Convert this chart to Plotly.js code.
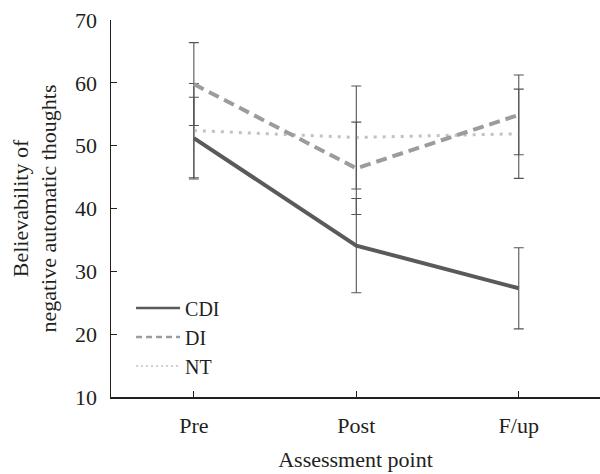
<!DOCTYPE html>
<html>
<head>
<meta charset="utf-8">
<script src="https://cdn.plot.ly/plotly-3.0.1.min.js"></script>
<style>html,body{margin:0;padding:0;background:#fff;}#chart{width:600px;height:474px;}</style>
</head>
<body>
<div id="chart"></div>
<script>
const categories = ["Pre", "Post", "F/up"];
const seriesNames = ["CDI", "DI", "NT"];
const cdiMean = [51.2, 34.1, 27.3];
const cdiErr = [6.5, 7.5, 6.45];
const diMean = [59.8, 46.4, 54.9];
const diErr = [6.6, 7.35, 6.35];
const ntMean = [52.4, 51.3, 51.9];
const ntErr = [7.5, 8.2, 7.1];
const yTicks = [10, 20, 30, 40, 50, 60, 70];

const font = "Liberation Serif, Times New Roman, serif";
const fsize = 22;
const tcol = "#231f20";
const xIdx = categories.map((c, i) => i);

const styles = {
  CDI: {color: "#5a5a5a", width: 4, dash: "solid", lw: 2.5, ldash: "solid"},
  DI: {color: "#9c9c9c", width: 4, dash: "11px,6px", lw: 2.5, ldash: "6px,4px"},
  NT: {color: "#c2c2c2", width: 3, dash: "3px,6px", lw: 1.5, ldash: "2px,3px"}
};

function trace(name, y, err) {
  const s = styles[name];
  return {
    type: "scatter", mode: "lines", name: name, showlegend: false,
    x: xIdx, y: y,
    line: {color: s.color, width: s.width, dash: s.dash},
    error_y: {type: "data", array: err, visible: true, color: "#555555", thickness: 1.1, width: 5}
  };
}
function legendTrace(name) {
  const s = styles[name];
  return {
    type: "scatter", mode: "lines", name: name, showlegend: true,
    x: [null], y: [null],
    line: {color: s.color, width: s.lw, dash: s.ldash}
  };
}

const data = [
  trace("NT", ntMean, ntErr),
  trace("DI", diMean, diErr),
  trace("CDI", cdiMean, cdiErr),
  legendTrace(seriesNames[0]),
  legendTrace(seriesNames[1]),
  legendTrace(seriesNames[2])
];

const layout = {
  width: 600, height: 474,
  margin: {l: 111, r: 0, t: 20, b: 77},
  paper_bgcolor: "#fff", plot_bgcolor: "#fff",
  font: {family: font, size: fsize, color: tcol},
  showlegend: true,
  legend: {
    x: 0.041, y: 0.288, xanchor: "left", yanchor: "top",
    traceorder: "normal",
    font: {family: font, size: 20, color: tcol},
    bgcolor: "rgba(0,0,0,0)", itemwidth: 44, tracegroupgap: 0
  },
  xaxis: {
    range: [-0.51, 2.5],
    tickvals: xIdx, ticktext: categories,
    ticks: "inside", ticklen: 6, tickcolor: tcol, tickwidth: 1,
    showline: true, linecolor: tcol, linewidth: 1.5,
    showgrid: false, zeroline: false,
    ticklabelstandoff: 8,
    tickfont: {family: font, size: fsize, color: tcol},
    title: {text: "Assessment point", font: {family: font, size: fsize, color: tcol}, standoff: 14}
  },
  yaxis: {
    range: [10, 70],
    tickvals: yTicks,
    ticks: "inside", ticklen: 6, tickcolor: tcol, tickwidth: 1,
    showline: true, linecolor: tcol, linewidth: 1.5,
    showgrid: false, zeroline: false,
    ticklabelstandoff: 8,
    tickfont: {family: font, size: fsize, color: tcol},
    title: {text: "Believability of<br>negative automatic thoughts", font: {family: font, size: fsize, color: tcol}, standoff: 12}
  }
};

Plotly.newPlot("chart", data, layout, {displayModeBar: false, staticPlot: true});
</script>
</body>
</html>
